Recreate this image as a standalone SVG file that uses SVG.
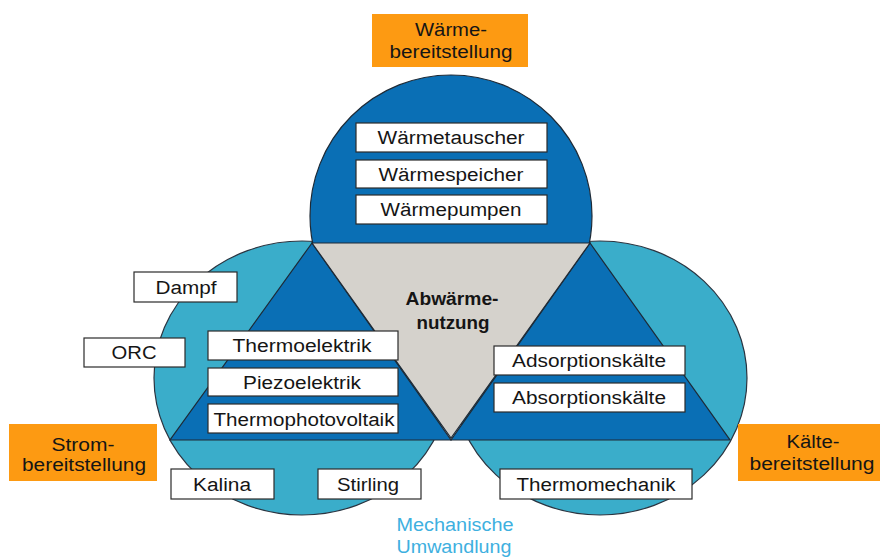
<svg xmlns="http://www.w3.org/2000/svg" width="880" height="558" viewBox="0 0 880 558">
<style>
.t{font-family:"Liberation Sans",Arial,sans-serif;font-size:18px;fill:#151515;text-anchor:middle}
.b{font-weight:bold;font-size:17.5px}
.box{fill:#ffffff;stroke:#2b2b2b;stroke-width:1.2}
.org{fill:#fd9a12}
.lb{fill:#3aadca;stroke:#2a3440;stroke-width:1.2}
.db{fill:#0a6fb5;stroke:#1e2a36;stroke-width:1.2}
.gr{fill:#d5d2cc;stroke:#1e2a36;stroke-width:1.2}
.mech{fill:#3eb0df}
</style>
<rect width="880" height="558" fill="#ffffff"/>
<g id="shapes">
<ellipse class="lb" cx="302" cy="378" rx="148" ry="137"/>
<ellipse class="lb" cx="600" cy="378" rx="147" ry="137"/>
<circle class="db" cx="451" cy="216" r="141"/>
<polygon class="db" points="312,243 170,440 451,440"/>
<polygon class="db" points="590,243 451,440 730,440"/>
<polygon class="gr" points="312,243 590,243 451,438"/>
</g>
<g id="center">
<text class="t b" x="452" y="305" textLength="93" lengthAdjust="spacingAndGlyphs">Abwärme-</text>
<text class="t b" x="453" y="329" textLength="73" lengthAdjust="spacingAndGlyphs">nutzung</text>
</g>
<g id="waerme">
<rect class="org" x="372" y="14" width="156" height="53"/>
<text class="t" x="451" y="36" textLength="72" lengthAdjust="spacingAndGlyphs">Wärme-</text>
<text class="t" x="451" y="58" textLength="123" lengthAdjust="spacingAndGlyphs">bereitstellung</text>
</g>
<g id="strom">
<rect class="org" x="9" y="424" width="148" height="57"/>
<text class="t" x="83" y="451" textLength="63" lengthAdjust="spacingAndGlyphs">Strom-</text>
<text class="t" x="84" y="471" textLength="124" lengthAdjust="spacingAndGlyphs">bereitstellung</text>
</g>
<g id="kaelte">
<rect class="org" x="738" y="424" width="142" height="57"/>
<text class="t" x="813" y="448" textLength="53" lengthAdjust="spacingAndGlyphs">Kälte-</text>
<text class="t" x="812" y="470" textLength="125" lengthAdjust="spacingAndGlyphs">bereitstellung</text>
</g>
<g id="mechanisch">
<text class="t mech" x="455" y="531" textLength="117" lengthAdjust="spacingAndGlyphs">Mechanische</text>
<text class="t mech" x="454" y="553" textLength="115" lengthAdjust="spacingAndGlyphs">Umwandlung</text>
</g>
<g id="waermetauscher">
<rect class="box" x="356" y="123" width="191" height="29"/>
<text class="t" x="451" y="144" textLength="147" lengthAdjust="spacingAndGlyphs">Wärmetauscher</text>
</g>
<g id="waermespeicher">
<rect class="box" x="356" y="160" width="191" height="28"/>
<text class="t" x="451" y="181" textLength="145" lengthAdjust="spacingAndGlyphs">Wärmespeicher</text>
</g>
<g id="waermepumpen">
<rect class="box" x="356" y="195" width="191" height="29"/>
<text class="t" x="451" y="216" textLength="141" lengthAdjust="spacingAndGlyphs">Wärmepumpen</text>
</g>
<g id="dampf">
<rect class="box" x="134" y="272" width="103" height="30"/>
<text class="t" x="186" y="294" textLength="61" lengthAdjust="spacingAndGlyphs">Dampf</text>
</g>
<g id="orc">
<rect class="box" x="84" y="338" width="101" height="29"/>
<text class="t" x="134" y="359" textLength="45" lengthAdjust="spacingAndGlyphs">ORC</text>
</g>
<g id="thermoelektrik">
<rect class="box" x="208" y="331" width="190" height="29"/>
<text class="t" x="302" y="352" textLength="139" lengthAdjust="spacingAndGlyphs">Thermoelektrik</text>
</g>
<g id="piezoelektrik">
<rect class="box" x="208" y="368" width="190" height="28"/>
<text class="t" x="302" y="389" textLength="118" lengthAdjust="spacingAndGlyphs">Piezoelektrik</text>
</g>
<g id="thermophotovoltaik">
<rect class="box" x="208" y="404" width="190" height="29"/>
<text class="t" x="304" y="426" textLength="181" lengthAdjust="spacingAndGlyphs">Thermophotovoltaik</text>
</g>
<g id="kalina">
<rect class="box" x="171" y="469" width="103" height="30"/>
<text class="t" x="222" y="491" textLength="58" lengthAdjust="spacingAndGlyphs">Kalina</text>
</g>
<g id="stirling">
<rect class="box" x="318" y="469" width="103" height="30"/>
<text class="t" x="368" y="491" textLength="62" lengthAdjust="spacingAndGlyphs">Stirling</text>
</g>
<g id="adsorptionskaelte">
<rect class="box" x="494" y="346" width="191" height="29"/>
<text class="t" x="589" y="367" textLength="154" lengthAdjust="spacingAndGlyphs">Adsorptionskälte</text>
</g>
<g id="absorptionskaelte">
<rect class="box" x="494" y="383" width="191" height="29"/>
<text class="t" x="589" y="404" textLength="154" lengthAdjust="spacingAndGlyphs">Absorptionskälte</text>
</g>
<g id="thermomechanik">
<rect class="box" x="500" y="469" width="192" height="30"/>
<text class="t" x="596" y="491" textLength="159" lengthAdjust="spacingAndGlyphs">Thermomechanik</text>
</g>
<g id="connectors"/>
</svg>
